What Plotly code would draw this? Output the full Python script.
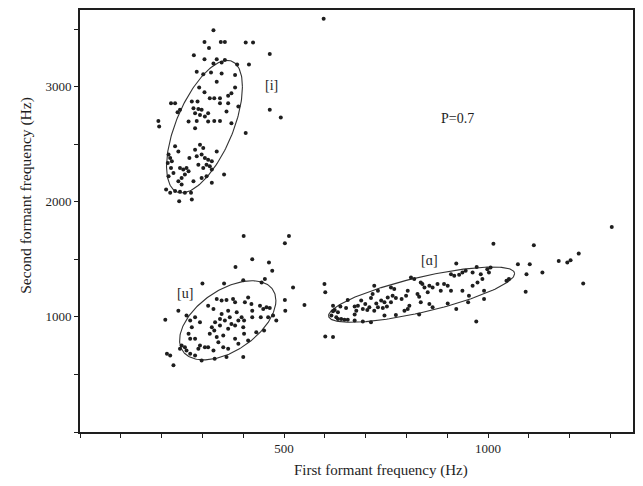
import numpy as np
import plotly.graph_objects as go

# ---------------- data (Hz) ----------------
# vowel [i]
i_f1 = [327, 305, 345, 355, 406, 424, 316, 465, 279, 305, 335, 355, 327, 347, 385, 414,
        286, 302, 321, 347, 380, 335, 292, 305, 380, 371, 363, 318, 329, 343, 274, 223,
        233, 288, 343, 363, 245, 239, 278, 290, 298, 388, 282, 294, 314, 359, 192, 194,
        266, 286, 314, 329, 343, 371, 282, 306, 406, 233, 241, 294, 302, 282, 335, 217,
        221, 215, 225, 268, 286, 298, 306, 314, 323, 310, 318, 302, 290, 245, 253, 261,
        266, 257, 249, 241, 249, 217, 229, 278, 298, 310, 353, 323, 211, 221, 233, 245,
        257, 272, 243, 274, 223, 323, 597, 465, 492]
i_f2 = [3489, 3388, 3388, 3388, 3382, 3382, 3336, 3282, 3273, 3238, 3238, 3230, 3201, 3210,
        3192, 3192, 3129, 3106, 3123, 3114, 3100, 3042, 2991, 2950, 2991, 2942, 2921, 2898,
        2898, 2898, 2870, 2855, 2855, 2870, 2855, 2855, 2798, 2777, 2812, 2806, 2798, 2826,
        2769, 2754, 2769, 2783, 2702, 2653, 2697, 2702, 2697, 2702, 2702, 2682, 2639, 2740,
        2596, 2481, 2437, 2495, 2466, 2452, 2437, 2409, 2380, 2337, 2351, 2380, 2394, 2409,
        2380, 2365, 2351, 2322, 2308, 2293, 2322, 2293, 2279, 2293, 2264, 2236, 2207, 2178,
        2149, 2221, 2250, 2178, 2207, 2221, 2236, 2164, 2106, 2077, 2092, 2086, 2077, 2077,
        2005, 2020, 2293, 2279, 3590, 2798, 2731]

# vowel [u]
u_f1 = [401, 512, 502, 381, 422, 463, 471, 300, 353, 400, 445, 453, 522, 550, 502, 503,
        481, 451, 209, 241, 261, 270, 282, 294, 335, 347, 359, 375, 380, 314, 327, 363,
        384, 396, 402, 400, 402, 412, 404, 420, 422, 422, 441, 449, 457, 465, 443, 461,
        473, 388, 380, 367, 355, 343, 331, 323, 318, 329, 343, 351, 363, 380, 388, 412,
        432, 274, 266, 270, 282, 294, 290, 306, 314, 327, 339, 351, 363, 249, 245, 257,
        261, 270, 282, 298, 330, 359, 400, 213, 221, 229, 347, 371, 335]
u_f2 = [1702, 1702, 1639, 1434, 1501, 1472, 1400, 1290, 1290, 1319, 1299, 1328, 1256, 1103,
        1146, 1054, 968, 881, 974, 1054, 1011, 968, 996, 953, 1155, 1141, 1146, 1155, 1126,
        1097, 1069, 1054, 1040, 996, 968, 910, 853, 1169, 1126, 1112, 1054, 996, 1097, 1069,
        1083, 1077, 996, 996, 1011, 968, 925, 996, 968, 982, 953, 910, 853, 881, 925, 838,
        896, 809, 766, 795, 867, 910, 853, 809, 809, 752, 723, 737, 737, 708, 780, 737, 723,
        752, 723, 737, 708, 680, 665, 622, 636, 651, 651, 680, 665, 579, 1025, 939, 824]

# vowel [a]
a_f1 = [599, 601, 601, 620, 1013, 1112, 1303, 1222, 1173, 1194, 1202, 1233, 1073, 1102,
        1133, 1094, 1092, 1051, 1045, 971, 922, 922, 951, 953, 990, 990, 972, 998, 1006,
        1002, 937, 945, 962, 982, 986, 974, 937, 962, 909, 917, 929, 892, 901, 876, 884,
        909, 856, 864, 844, 852, 811, 819, 835, 839, 827, 831, 835, 856, 864, 901, 803,
        799, 788, 807, 795, 831, 762, 770, 766, 754, 762, 774, 746, 752, 742, 738, 721,
        730, 717, 713, 726, 730, 721, 709, 689, 699, 693, 704, 681, 673, 677, 656, 652,
        638, 620, 624, 632, 628, 632, 640, 648, 656, 673, 693, 713, 673, 746, 774, 803,
        616, 620]
a_f2 = [1285, 1213, 829, 824, 1636, 1622, 1780, 1550, 1486, 1472, 1492, 1290, 1457, 1457,
        1386, 1371, 1218, 1328, 1313, 959, 1463, 1069, 1126, 1184, 1155, 1227, 1434, 1414,
        1429, 1386, 1386, 1400, 1386, 1371, 1328, 1299, 1227, 1270, 1371, 1357, 1365, 1285,
        1270, 1285, 1227, 1227, 1270, 1256, 1256, 1213, 1342, 1328, 1299, 1285, 1198, 1175,
        1126, 1112, 1083, 1117, 1227, 1184, 1155, 1097, 1054, 1020, 1256, 1241, 1184, 1169,
        1126, 1164, 1126, 1089, 1077, 1141, 1270, 1227, 1198, 1164, 1117, 1083, 1054, 1083,
        1141, 1112, 1069, 1060, 1097, 1089, 1054, 1146, 1077, 1089, 1097, 1060, 1040, 996,
        982, 982, 974, 974, 968, 959, 953, 1020, 1011, 1017, 1069, 1011, 1048]

# P = 0.7 probability ellipses: centre F1, centre F2, sd F1, sd F2, correlation
ellipse_names = ["[i]", "[u]", "[ɑ]"]
ellipse_cx = [305, 362, 837]
ellipse_cy = [2652, 970, 1193]
ellipse_sx = [93, 118, 228]
ellipse_sy = [576, 344, 240]
ellipse_rho = [0.60, 0.50, 0.76]

# vowel labels
label_text = ["[i]", "[u]", "[ɑ]", "P=0.7"]
label_x = [468, 257, 856, 926]
label_y = [3005, 1203, 1493, 2725]

# ticks
x_tick_vals = [0, 100, 200, 300, 400, 500, 600, 700, 800, 900, 1000, 1100, 1200, 1300]
x_tick_text = ["", "", "", "", "", "500", "", "", "", "", "1000", "", "", ""]
y_tick_vals = [0, 500, 1000, 1500, 2000, 2500, 3000, 3500]
y_tick_text = ["", "", "1000", "", "2000", "", "3000", ""]

INK = "#1e1e1e"
FONT = "Liberation Serif"

fig = go.Figure()

# ellipses
t = np.linspace(0, 2 * np.pi, 200)
for name, cx, cy, sx, sy, r in zip(ellipse_names, ellipse_cx, ellipse_cy,
                                   ellipse_sx, ellipse_sy, ellipse_rho):
    ex = cx + sx * np.cos(t)
    ey = cy + sy * (r * np.cos(t) + np.sqrt(1 - r * r) * np.sin(t))
    fig.add_trace(go.Scatter(x=ex, y=ey, mode="lines",
                             line=dict(color="#333333", width=1.1),
                             hoverinfo="skip", showlegend=False))

# points
for name, xs, ys in [("[i]", i_f1, i_f2), ("[u]", u_f1, u_f2), ("[ɑ]", a_f1, a_f2)]:
    fig.add_trace(go.Scatter(x=xs, y=ys, mode="markers", name=name,
                             marker=dict(color=INK, size=4, symbol="circle"),
                             showlegend=False))

for txt, lx, ly in zip(label_text, label_x, label_y):
    fig.add_annotation(x=lx, y=ly, text=txt, showarrow=False,
                       font=dict(family=FONT, size=14, color=INK))

# axis titles as annotations for precise placement
fig.add_annotation(xref="paper", yref="paper", x=0.544, y=-0.116,
                   text="First formant frequency (Hz)", showarrow=False,
                   font=dict(family=FONT, size=15, color=INK))
fig.add_annotation(xref="paper", yref="paper", x=-0.119, y=0.56,
                   text="Second formant frequency (Hz)", showarrow=False, textangle=-90,
                   font=dict(family=FONT, size=15.5, color=INK))

axis_common = dict(showgrid=False, zeroline=False, showline=True, mirror=True,
                   linecolor=INK, linewidth=1.6, ticks="outside", ticklen=4,
                   tickcolor=INK, tickwidth=1.2,
                   tickfont=dict(family=FONT, size=13, color=INK))

fig.update_layout(
    width=627, height=478,
    margin=dict(l=72, r=0, t=0, b=54),
    paper_bgcolor="white", plot_bgcolor="white",
    xaxis=dict(range=[0, 1355], tickmode="array", tickvals=x_tick_vals,
               ticktext=x_tick_text, **axis_common),
    yaxis=dict(range=[0, 3665], tickmode="array", tickvals=y_tick_vals,
               ticktext=y_tick_text, **axis_common),
)

fig.write_html("out.html")
